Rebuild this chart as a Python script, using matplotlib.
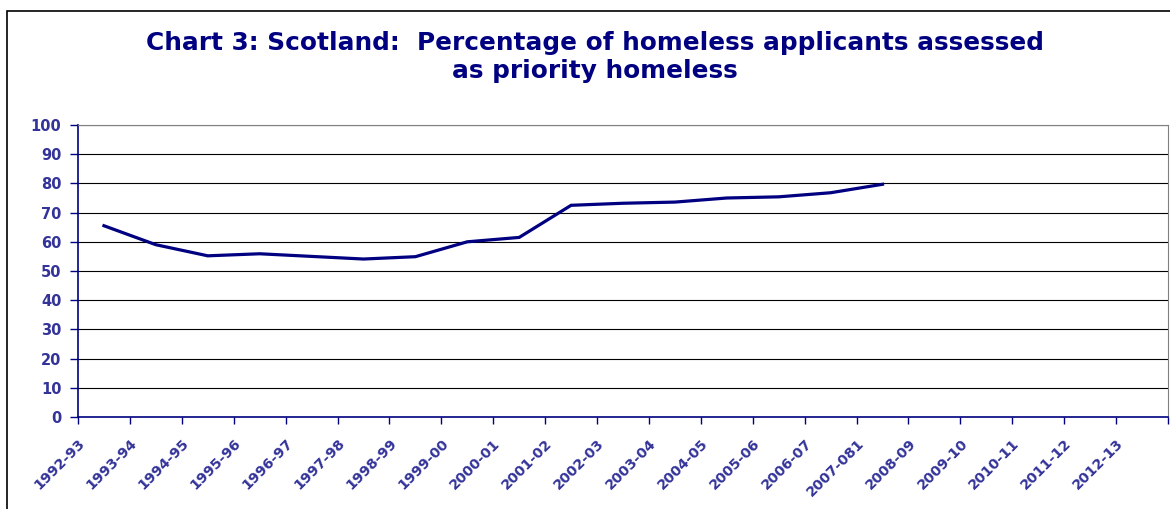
import matplotlib
matplotlib.use('Agg')
from matplotlib import pyplot as plt
from matplotlib import transforms
from matplotlib.patches import Rectangle

# Финансовые годы (категории оси X)
years = ['1992-93', '1993-94', '1994-95', '1995-96', '1996-97', '1997-98',
         '1998-99', '1999-00', '2000-01', '2001-02', '2002-03', '2003-04',
         '2004-05', '2005-06', '2006-07', '2007-081', '2008-09', '2009-10',
         '2010-11', '2011-12', '2012-13']
# Процент заявителей, признанных приоритетными бездомными
priority_pct = [65.5, 59.0, 55.2, 55.9, 55.0, 54.1, 54.9, 60.0, 61.5, 72.5,
                73.2, 73.6, 75.0, 75.4, 76.8, 79.7]
y_ticks = [0, 10, 20, 30, 40, 50, 60, 70, 80, 90, 100]

NAVY = '#000080'
LABEL_CLR = '#333399'

plt.rcParams['font.family'] = ['DejaVu Sans']

fig = plt.figure(figsize=(11.7, 5.09), dpi=100)
ax = fig.add_axes([78 / 1170, 1 - 417 / 509, 1090 / 1170, 292 / 509])

x = list(range(len(priority_pct)))
ax.plot(x, priority_pct, color=NAVY, linewidth=2.3, solid_joinstyle='miter')

ax.set_xlim(-0.5, len(years) - 0.5)
ax.set_ylim(0, 100)

# Сетка
for v in y_ticks[1:]:
    ax.axhline(v, color='black', linewidth=0.8, zorder=0)

# Ось Y
ax.set_yticks(y_ticks)
ax.tick_params(axis='y', direction='out', length=6, color=NAVY, width=1, pad=6,
               labelsize=10.5, labelcolor=LABEL_CLR)
for lbl in ax.get_yticklabels():
    lbl.set_fontweight('bold')

# Ось X: деления между категориями, подписи по центрам
ax.set_xticks([i - 0.5 for i in range(len(years) + 1)])
ax.set_xticklabels([])
ax.set_xticks(list(range(len(years))), minor=True)
ax.set_xticklabels(years, minor=True)
ax.tick_params(axis='x', which='major', direction='out', length=5, color=NAVY, width=1)
ax.tick_params(axis='x', which='minor', length=0, pad=0,
               labelsize=10.3, labelcolor=LABEL_CLR)
offset = transforms.ScaledTranslation(-21 / 100, -24 / 100, fig.dpi_scale_trans)
for lbl in ax.get_xticklabels(minor=True):
    lbl.set_fontweight('bold')
    lbl.set_rotation(45)
    lbl.set_rotation_mode('anchor')
    lbl.set_ha('right')
    lbl.set_va('center')
    lbl.set_transform(lbl.get_transform() + offset)

ax.spines['left'].set_color(NAVY)
ax.spines['bottom'].set_color(NAVY)
ax.spines['left'].set_linewidth(1.2)
ax.spines['bottom'].set_linewidth(1.2)
ax.spines['top'].set_color('#808080')
ax.spines['right'].set_color('#808080')

# Заголовок
fig.text(595 / 1170, 1 - 57 / 509,
         'Chart 3: Scotland:  Percentage of homeless applicants assessed\nas priority homeless',
         ha='center', va='center', multialignment='center', fontsize=17.8,
         fontweight='bold', color=NAVY, linespacing=1.18)

# Рамка диаграммы
fig.add_artist(Rectangle((7 / 1170, -0.1), 1.2, 1.1 - 11 / 509,
                         transform=fig.transFigure, fill=False,
                         edgecolor='black', linewidth=1.2))

fig.savefig('out.png', dpi=100)
